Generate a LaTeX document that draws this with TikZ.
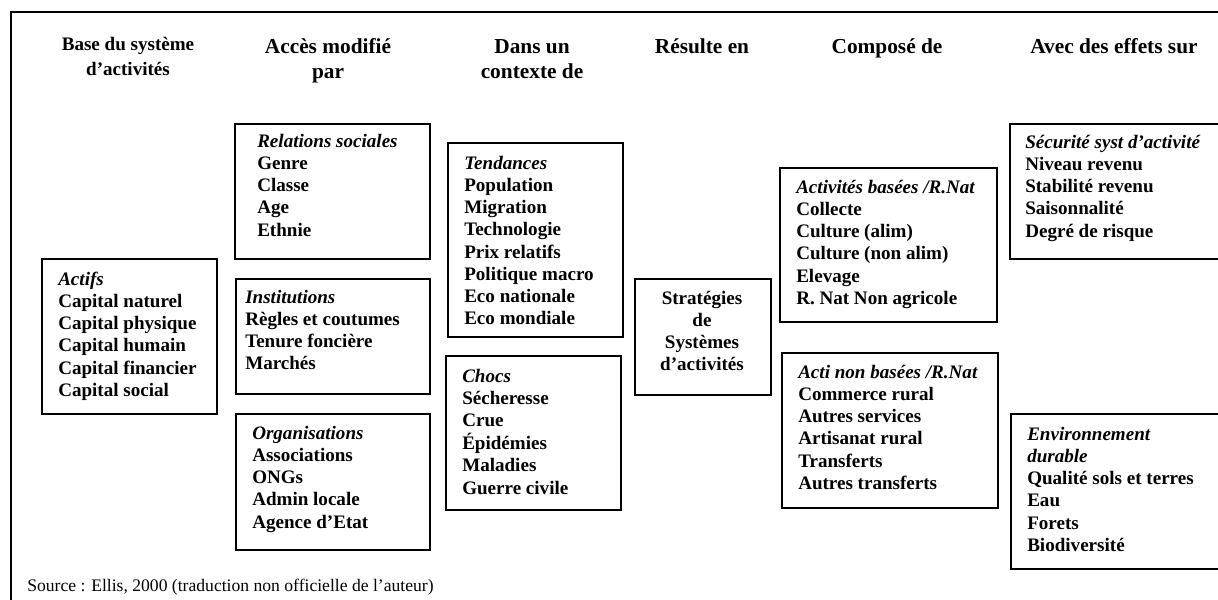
\documentclass[tikz,border=0pt]{standalone}
\usepackage{fontspec}
\setmainfont{Liberation Serif}
\newcommand{\bodyfnt}{\fontsize{14.3pt}{16.7pt}\selectfont\bfseries}
\newcommand{\headfnt}{\fontsize{16pt}{18.75pt}\selectfont\bfseries}
\newcommand{\headsmallfnt}{\fontsize{14.3pt}{18.75pt}\selectfont\bfseries}
\newcommand{\srcfnt}{\fontsize{13.2pt}{15pt}\selectfont}
\begin{document}
\begin{tikzpicture}[x=0.75pt,y=-0.75pt,
  box/.style={draw=black, line width=1.3pt, inner sep=0pt, anchor=north west},
  txt/.style={inner sep=0pt, anchor=base west, font=\bodyfnt},
  ctxt/.style={inner sep=0pt, anchor=base, font=\bodyfnt},
  head/.style={inner sep=0pt, anchor=base, font=\headfnt},
  frame/.style={draw=black, line width=1.3pt}]
\useasboundingbox (0,0) rectangle (1218,600);
\clip (0,0) rectangle (1218,600);
% frame
\coordinate (fr-tr) at (1240,12);
\coordinate (fr-tl) at (11,12);
\coordinate (fr-bl) at (11,620);
\draw[frame] (fr-tr) -- (fr-tl) -- (fr-bl);
% headers
\node[head, font=\headsmallfnt] (h1) at (128,50) {\begin{tabular}[t]{@{}c@{}}Base du système\\d’activités\end{tabular}};
\node[head] (h2) at (328,53) {\begin{tabular}[t]{@{}c@{}}Accès modifié\\par\end{tabular}};
\node[head] (h3) at (532,53) {\begin{tabular}[t]{@{}c@{}}Dans un\\contexte de\end{tabular}};
\node[head] (h4) at (702,53) {Résulte en};
\node[head] (h5) at (887,53) {Composé de};
\node[head] (h6) at (1114,53) {Avec des effets sur};
% boxes
\node[box, minimum width=175*0.75pt, minimum height=155*0.75pt] (actifs) at (41,258) {};
\node[box, minimum width=195*0.75pt, minimum height=135*0.75pt] (relations) at (234,123) {};
\node[box, minimum width=194*0.75pt, minimum height=115*0.75pt] (institutions) at (235,278) {};
\node[box, minimum width=194*0.75pt, minimum height=136*0.75pt] (organisations) at (235,413) {};
\node[box, minimum width=175*0.75pt, minimum height=194*0.75pt] (tendances) at (447,142) {};
\node[box, minimum width=175*0.75pt, minimum height=154*0.75pt] (chocs) at (445,355) {};
\node[box, minimum width=136*0.75pt, minimum height=116*0.75pt] (strategies) at (634,278) {};
\node[box, minimum width=217*0.75pt, minimum height=154*0.75pt] (actnat) at (779,167) {};
\node[box, minimum width=216*0.75pt, minimum height=155*0.75pt] (actnon) at (781,352) {};
\node[box, minimum width=250*0.75pt, minimum height=135*0.75pt] (securite) at (1009,123) {};
\node[box, minimum width=250*0.75pt, minimum height=155*0.75pt] (environnement) at (1010,413) {};
% texts
\node[txt] (actifs-t) at (58,285) {\begin{tabular}[t]{@{}l@{}}\textit{Actifs}\\Capital naturel\\Capital physique\\Capital humain\\Capital financier\\Capital social\end{tabular}};
\node[txt] (relations-t) at (257,147) {\begin{tabular}[t]{@{}l@{}}\textit{Relations sociales}\\Genre\\Classe\\Age\\Ethnie\end{tabular}};
\node[txt] (institutions-t) at (245,303) {\begin{tabular}[t]{@{}l@{}}\textit{Institutions}\\Règles et coutumes\\Tenure foncière\\Marchés\end{tabular}};
\node[txt] (organisations-t) at (252,439) {\begin{tabular}[t]{@{}l@{}}\textit{Organisations}\\Associations\\ONGs\\Admin locale\\Agence d’Etat\end{tabular}};
\node[txt] (tendances-t) at (464,169) {\begin{tabular}[t]{@{}l@{}}\textit{Tendances}\\Population\\Migration\\Technologie\\Prix relatifs\\Politique macro\\Eco nationale\\Eco mondiale\end{tabular}};
\node[txt] (chocs-t) at (462,382) {\begin{tabular}[t]{@{}l@{}}\textit{Chocs}\\Sécheresse\\Crue\\Épidémies\\Maladies\\Guerre civile\end{tabular}};
\node[ctxt] (strategies-t) at (702,304) {\begin{tabular}[t]{@{}c@{}}Stratégies\\de\\Systèmes\\d’activités\end{tabular}};
\node[txt] (actnat-t) at (796,193) {\begin{tabular}[t]{@{}l@{}}\textit{Activités basées /R.Nat}\\Collecte\\Culture (alim)\\Culture (non alim)\\Elevage\\R. Nat Non agricole\end{tabular}};
\node[txt] (actnon-t) at (798,378) {\begin{tabular}[t]{@{}l@{}}\textit{Acti non basées /R.Nat}\\Commerce rural\\Autres services\\Artisanat rural\\Transferts\\Autres transferts\end{tabular}};
\node[txt] (securite-t) at (1025,148) {\begin{tabular}[t]{@{}l@{}}\textit{Sécurité syst d’activité}\\Niveau revenu\\Stabilité revenu\\Saisonnalité\\Degré de risque\end{tabular}};
\node[txt] (environnement-t) at (1027,440) {\begin{tabular}[t]{@{}l@{}}\textit{Environnement}\\\textit{durable}\\Qualité sols et terres\\Eau\\Forets\\Biodiversité\end{tabular}};
% source
\node[inner sep=0pt, anchor=base west, font=\srcfnt] (source) at (27,591) {Source : Ellis, 2000 (traduction non officielle de l’auteur)};
\end{tikzpicture}
\end{document}
